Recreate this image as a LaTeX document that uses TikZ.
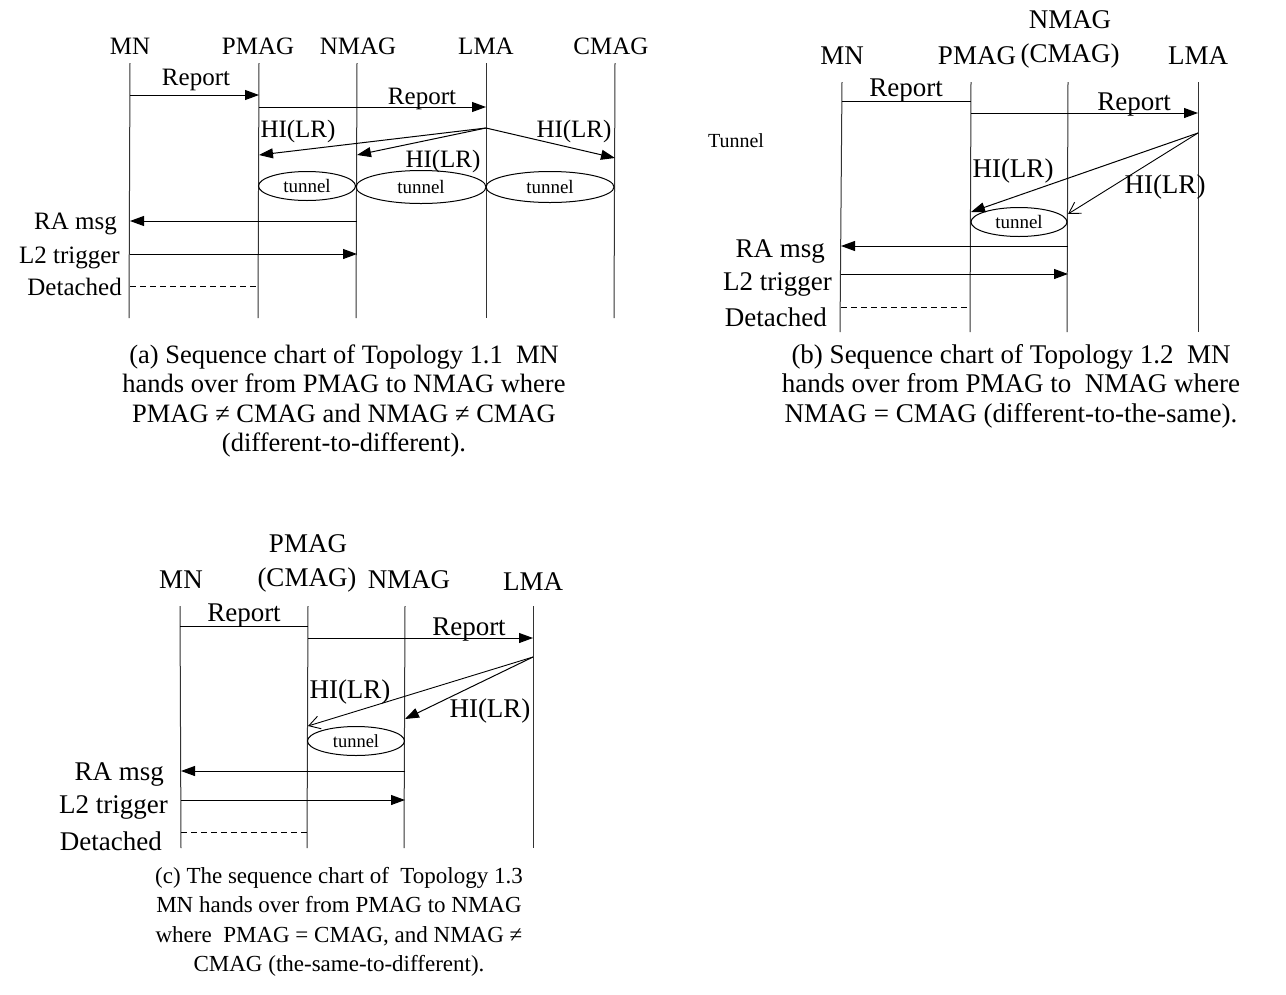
\documentclass[tikz,border=0pt]{standalone}
\usepackage{fontspec}
\setmainfont{Liberation Serif}
\usetikzlibrary{arrows.meta,shapes.geometric}
\begin{document}
\begin{tikzpicture}[x=1pt,y=-1pt,
  life/.style={line width=1pt, draw=black!80},
  msg/.style={line width=1pt,-{Triangle[length=14pt,width=10pt]}},
  omsg/.style={line width=0.9pt,-{Straight Barb[length=11pt,width=13pt,line width=0.9pt]}},
  plainmsg/.style={line width=1pt},
  det/.style={line width=1pt,dash pattern=on 6pt off 4pt},
  fa/.style={font=\fontsize{25}{29}\selectfont},
  fb/.style={font=\fontsize{27}{31}\selectfont},
  lbl/.style={inner sep=0pt, anchor=base},
  rlbl/.style={inner sep=0pt, anchor=base east},
  tun/.style={ellipse, draw, line width=1pt, inner sep=0pt, minimum height=29pt, font=\fontsize{19}{22}\selectfont},
  captext/.style={align=center, inner sep=0pt}]
\useasboundingbox (0,0) rectangle (1286,994);

% ================= (a) =================
\node[lbl,fa] (aMN)   at (130,54) {MN};
\node[lbl,fa] (aPM)   at (258,54) {PMAG};
\node[lbl,fa] (aNM)   at (358,54) {NMAG};
\node[lbl,fa] (aLMA)  at (486,54) {LMA};
\node[lbl,fa] (aCM)   at (611,54) {CMAG};
\coordinate (aMNt) at (130,63);  \coordinate (aMNb) at (129,318);
\coordinate (aPMt) at (259,63);  \coordinate (aPMb) at (258,318);
\coordinate (aNMt) at (357,63);  \coordinate (aNMb) at (356,318);
\coordinate (aLt)  at (486,63);  \coordinate (aLb)  at (486,318);
\coordinate (aCt)  at (615,63);  \coordinate (aCb)  at (614,318);
\draw[life] (aMNt) -- (aMNb);
\draw[life] (aPMt) -- (aPMb);
\draw[life] (aNMt) -- (aNMb);
\draw[life] (aLt) -- (aLb);
\draw[life] (aCt) -- (aCb);
\coordinate (aR1s) at (130,95);  \coordinate (aR1e) at (259,95);
\draw[msg] (aR1s) -- (aR1e);
\node[lbl,fa] (aR1l) at (196,85) {Report};
\coordinate (aR2s) at (259,107); \coordinate (aR2e) at (486,107);
\draw[msg] (aR2s) -- (aR2e);
\node[lbl,fa] (aR2l) at (422,104) {Report};
\coordinate (aHs) at (486,128);
\coordinate (aH1e) at (259,155);
\coordinate (aH2e) at (357,155);
\coordinate (aH3e) at (615,158);
\draw[msg] (aHs) -- (aH1e);
\draw[msg] (aHs) -- (aH2e);
\draw[msg] (aHs) -- (aH3e);
\node[lbl,fa] (aH1l) at (298,137) {HI(LR)};
\node[lbl,fa] (aH2l) at (443,167) {HI(LR)};
\node[lbl,fa] (aH3l) at (574,137) {HI(LR)};
\node[tun, minimum width=97pt]  (aT1) at (307,186) {tunnel};
\node[tun, minimum width=130pt, minimum height=33pt] (aT2) at (421,187) {tunnel};
\node[tun, minimum width=128pt, minimum height=31pt] (aT3) at (550,187) {tunnel};
\coordinate (aRAs) at (357,221); \coordinate (aRAe) at (130,221);
\draw[msg] (aRAs) -- (aRAe);
\node[rlbl,fa] (aRAl) at (117,229) {RA msg};
\coordinate (aL2s) at (130,254); \coordinate (aL2e) at (357,254);
\draw[msg] (aL2s) -- (aL2e);
\node[rlbl,fa] (aL2l) at (120,263) {L2 trigger};
\coordinate (aDs) at (130,286); \coordinate (aDe) at (259,286);
\draw[det] (aDs) -- (aDe);
\node[rlbl,fa] (aDl) at (122,295) {Detached};
\node[captext, font=\fontsize{26.5}{29.5}\selectfont] (acap) at (344,401) {(a) Sequence chart of Topology 1.1\ \ MN\\hands over from PMAG to NMAG where\\PMAG ≠ CMAG and NMAG ≠ CMAG\\(different-to-different).};

% ================= (b) =================
\node[lbl,fb] (bNMt) at (1070,28) {NMAG};
\node[lbl,fb] (bMN)  at (842,64) {MN};
\node[lbl,fb] (bPM)  at (977,64) {PMAG};
\node[lbl,fb] (bCM)  at (1070,62) {(CMAG)};
\node[lbl,fb] (bLMA) at (1198,64) {LMA};
\coordinate (bMNt) at (842,82);  \coordinate (bMNb) at (840,332);
\coordinate (bPMt) at (971,82);  \coordinate (bPMb) at (970,332);
\coordinate (bNMt) at (1068,82); \coordinate (bNMb) at (1067,332);
\coordinate (bLt)  at (1198,82); \coordinate (bLb)  at (1198,332);
\draw[life] (bMNt) -- (bMNb);
\draw[life] (bPMt) -- (bPMb);
\draw[life] (bNMt) -- (bNMb);
\draw[life] (bLt) -- (bLb);
\coordinate (bR1s) at (842,101); \coordinate (bR1e) at (971,101);
\draw[plainmsg] (bR1s) -- (bR1e);
\node[lbl,fb] (bR1l) at (906,96) {Report};
\coordinate (bR2s) at (971,113); \coordinate (bR2e) at (1198,113);
\draw[msg] (bR2s) -- (bR2e);
\node[lbl,fb] (bR2l) at (1134,110) {Report};
\node[font=\fontsize{20}{23}\selectfont, inner sep=0pt] (bTun) at (736,141) {Tunnel};
\coordinate (bHs) at (1198,133);
\coordinate (bH1e) at (971,212);
\coordinate (bH2e) at (1068,214);
\draw[msg] (bHs) -- (bH1e);
\draw[omsg] (bHs) -- (bH2e);
\node[lbl,fb] (bH1l) at (1013,177) {HI(LR)};
\node[lbl,fb] (bH2l) at (1165,193) {HI(LR)};
\node[tun, minimum width=96pt] (bT) at (1019,222) {tunnel};
\coordinate (bRAs) at (1068,246); \coordinate (bRAe) at (841,246);
\draw[msg] (bRAs) -- (bRAe);
\node[rlbl,fb] (bRAl) at (825,257) {RA msg};
\coordinate (bL2s) at (841,274); \coordinate (bL2e) at (1068,274);
\draw[msg] (bL2s) -- (bL2e);
\node[rlbl,fb] (bL2l) at (832,290) {L2 trigger};
\coordinate (bDs) at (841,307); \coordinate (bDe) at (970,307);
\draw[det] (bDs) -- (bDe);
\node[rlbl,fb] (bDl) at (827,326) {Detached};
\node[captext, font=\fontsize{27}{29.5}\selectfont] (bcap) at (1011,386) {(b) Sequence chart of Topology 1.2\ \ MN\\hands over from PMAG to\ \ NMAG where\\NMAG = CMAG (different-to-the-same).};

% ================= (c) =================
\node[lbl,fb] (cPMt) at (308,552) {PMAG};
\node[lbl,fb] (cMN)  at (181,588) {MN};
\node[lbl,fb] (cCM)  at (307,586) {(CMAG)};
\node[lbl,fb] (cNM)  at (409,588) {NMAG};
\node[lbl,fb] (cLMA) at (533,590) {LMA};
\coordinate (cMNt) at (180,606);  \coordinate (cMNb) at (181,848);
\coordinate (cPMt) at (308,606);  \coordinate (cPMb) at (307,848);
\coordinate (cNMt) at (405,606);  \coordinate (cNMb) at (404,848);
\coordinate (cLt)  at (533,606);  \coordinate (cLb)  at (533,848);
\draw[life] (cMNt) -- (cMNb);
\draw[life] (cPMt) -- (cPMb);
\draw[life] (cNMt) -- (cNMb);
\draw[life] (cLt) -- (cLb);
\coordinate (cR1s) at (180,626); \coordinate (cR1e) at (308,626);
\draw[plainmsg] (cR1s) -- (cR1e);
\node[lbl,fb] (cR1l) at (244,621) {Report};
\coordinate (cR2s) at (308,638); \coordinate (cR2e) at (533,638);
\draw[msg] (cR2s) -- (cR2e);
\node[lbl,fb] (cR2l) at (469,635) {Report};
\coordinate (cHs) at (533,657);
\coordinate (cH1e) at (308,726);
\coordinate (cH2e) at (405,719);
\draw[omsg] (cHs) -- (cH1e);
\draw[msg] (cHs) -- (cH2e);
\node[lbl,fb] (cH1l) at (350,698) {HI(LR)};
\node[lbl,fb] (cH2l) at (490,717) {HI(LR)};
\node[tun, minimum width=97pt, font=\fontsize{18.5}{22}\selectfont] (cT) at (356,741) {tunnel};
\coordinate (cRAs) at (405,771); \coordinate (cRAe) at (181,771);
\draw[msg] (cRAs) -- (cRAe);
\node[rlbl,fb] (cRAl) at (164,780) {RA msg};
\coordinate (cL2s) at (181,800); \coordinate (cL2e) at (405,800);
\draw[msg] (cL2s) -- (cL2e);
\node[rlbl,fb] (cL2l) at (168,813) {L2 trigger};
\coordinate (cDs) at (181,832); \coordinate (cDe) at (307,832);
\draw[det] (cDs) -- (cDe);
\node[rlbl,fb] (cDl) at (162,850) {Detached};
\node[captext, font=\fontsize{23}{29.5}\selectfont] (ccap) at (339,922) {(c) The sequence chart of\ \ Topology 1.3\\MN hands over from PMAG to NMAG\\where\ \ PMAG = CMAG, and NMAG ≠\\CMAG (the-same-to-different).};
\end{tikzpicture}
\end{document}
